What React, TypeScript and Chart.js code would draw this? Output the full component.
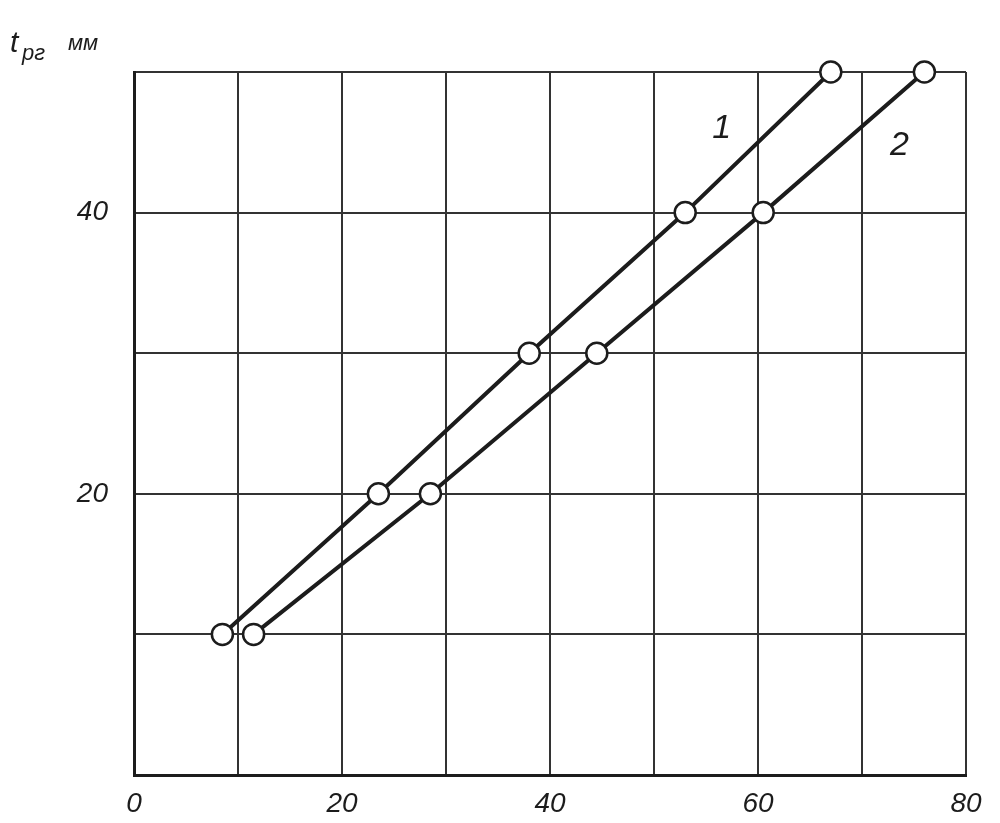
import { useEffect, useRef } from "react"
import { Chart, registerables } from "chart.js"

Chart.register(...registerables)

// curve 1 and curve 2, y in mm
const yValues = [10, 20, 30, 40, 50]
const xCurve1 = [8.5, 23.5, 38, 53, 67]
const xCurve2 = [11.5, 28.5, 44.5, 60.5, 76]
const xTickLabels = [0, 20, 40, 60, 80]
const yTickLabels = [20, 40]
const curveLabels = [
  { text: "1", x: 56.5, y: 46 },
  { text: "2", x: 73.6, y: 44.8 },
]

const ink = "#1c1c1c"
const family = "'Liberation Sans', 'DejaVu Sans', sans-serif"

const labelsPlugin = {
  id: "curveLabels",
  afterDatasetsDraw(chart: Chart) {
    const { ctx, scales } = chart
    ctx.save()
    ctx.fillStyle = ink
    ctx.font = `italic 34px ${family}`
    ctx.textAlign = "center"
    ctx.textBaseline = "middle"
    curveLabels.forEach((l) => {
      ctx.fillText(l.text, scales.x.getPixelForValue(l.x), scales.y.getPixelForValue(l.y))
    })
    // axis title
    ctx.textAlign = "left"
    ctx.textBaseline = "alphabetic"
    ctx.font = `italic 30px ${family}`
    ctx.fillText("t", 10, 52)
    ctx.font = `italic 22px ${family}`
    ctx.fillText("рг", 22, 60)
    ctx.fillText("мм", 68, 50)
    ctx.restore()
  },
}

export default function App() {
  const chartRef = useRef<HTMLCanvasElement>(null)
  const chartInstance = useRef<Chart | null>(null)

  useEffect(() => {
    if (!chartRef.current) return
    if (chartInstance.current) chartInstance.current.destroy()
    const ctx = chartRef.current.getContext("2d")
    if (!ctx) return

    const makeSet = (xs: number[], label: string) => ({
      label,
      data: xs.map((x, i) => ({ x, y: yValues[i] })),
      borderColor: ink,
      borderWidth: 4,
      pointRadius: 10.5,
      pointBorderWidth: 2.5,
      pointBackgroundColor: "#ffffff",
      pointBorderColor: ink,
      showLine: true,
      tension: 0,
      clip: false as const,
    })

    chartInstance.current = new Chart(ctx, {
      type: "scatter",
      data: {
        datasets: [makeSet(xCurve1, "1"), makeSet(xCurve2, "2")],
      },
      plugins: [labelsPlugin],
      options: {
        responsive: true,
        maintainAspectRatio: false,
        animation: false,
        layout: { padding: { left: 0, top: 72, right: 34, bottom: 0 } },
        plugins: {
          legend: { display: false },
          tooltip: { enabled: false },
        },
        scales: {
          x: {
            type: "linear",
            min: 0,
            max: 80,
            afterFit: (scale) => {
              scale.height = 48
            },
            grid: { color: "#333", lineWidth: 2, drawTicks: false },
            border: { color: ink, width: 3 },
            ticks: {
              stepSize: 10,
              padding: 12,
              color: ink,
              font: { family, size: 28, style: "italic" },
              callback: (v) => (xTickLabels.includes(Number(v)) ? String(v) : ""),
            },
          },
          y: {
            type: "linear",
            min: 0,
            max: 50,
            afterFit: (scale) => {
              scale.width = 134
            },
            grid: { color: "#333", lineWidth: 2, drawTicks: false },
            border: { color: ink, width: 3 },
            ticks: {
              stepSize: 10,
              padding: 26,
              color: ink,
              font: { family, size: 28, style: "italic" },
              callback: (v) => (yTickLabels.includes(Number(v)) ? String(v) : ""),
            },
          },
        },
      },
    })

    return () => {
      if (chartInstance.current) {
        chartInstance.current.destroy()
        chartInstance.current = null
      }
    }
  }, [])

  return (
    <div style={{ position: "fixed", left: 0, top: 0, width: 1000, height: 823, background: "#fff" }}>
      <canvas ref={chartRef} />
    </div>
  )
}
